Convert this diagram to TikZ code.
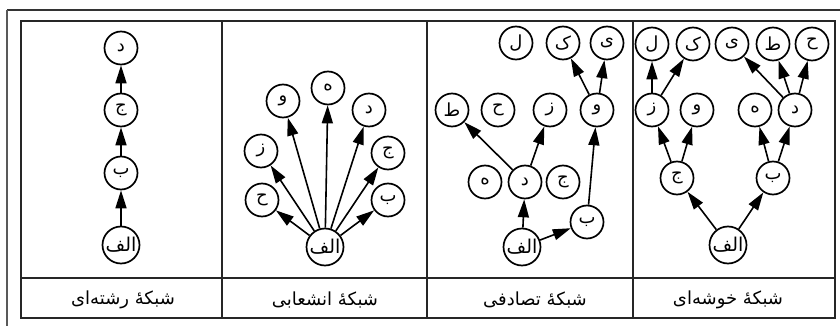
\documentclass[tikz,border=0pt]{standalone}
\usepackage{fontspec}
\usetikzlibrary{arrows.meta}
\newfontfamily\arabicfont[Script=Arabic]{DejaVu Sans}
\TeXXeTstate=1
\newcommand\fa[1]{\beginR#1\endR}
\begin{document}
\begin{tikzpicture}[x=1pt,y=-1pt,
  nd/.style={circle, draw, line width=1.7pt, minimum size=33pt, inner sep=0pt,
    font=\arabicfont\fontsize{18}{18}\selectfont},
  root/.style={nd, minimum size=37pt, font=\arabicfont\fontsize{19}{19}\selectfont},
  ar/.style={line width=1.6pt, -{Triangle[length=18pt,width=11pt]}},
  captxt/.style={font=\arabicfont\fontsize{18}{18}\selectfont, inner sep=0pt},
  tframe/.style={line width=1.9pt, draw=black!85}]
\useasboundingbox (0,0) rectangle (840,326);
\fill[white] (0,0) rectangle (840,326);
% outer scan frame
\coordinate (tl) at (7,10);
\coordinate (tr) at (840,10);
\coordinate (bl) at (7,326);
\draw[line width=2.4pt, black!80] (tl) -- (tr);
\draw[line width=1.4pt, black!65] (tl) -- (bl);
% table
\draw[tframe] (21,21) rectangle (835,318);
\draw[tframe] (21,278) -- (835,278);
\draw[tframe] (222,21) -- (222,318);
\draw[tframe] (427,21) -- (427,318);
\draw[tframe] (633,21) -- (633,318);
% captions
\node[captxt] (c1) at (123,300) {\fa{شبکهٔ رشته‌ای}};
\node[captxt] (c2) at (325,300) {\fa{شبکهٔ انشعابی}};
\node[captxt] (c3) at (535,300) {\fa{شبکهٔ تصادفی}};
\node[captxt] (c4) at (728,300) {\fa{شبکهٔ خوشه‌ای}};
% chain
\node[root] (a1) at (121,245) {\fa{الف}};
\node[nd] (b1) at (121,173) {ب};
\node[nd] (j1) at (121,110) {ج};
\node[nd] (d1) at (121,48) {د};
\draw[ar] (a1) -- (b1);
\draw[ar] (b1) -- (j1);
\draw[ar] (j1) -- (d1);
% branching
\node[root] (a2) at (325,247) {\fa{الف}};
\node[nd] (h2) at (262,200) {ح};
\node[nd] (z2) at (261,151) {ز};
\node[nd] (v2) at (283,101) {و};
\node[nd] (he2) at (328,88) {ه};
\node[nd] (d2) at (369,110) {د};
\node[nd] (j2) at (388,153) {ج};
\node[nd] (b2) at (388,200) {ب};
\foreach \t in {h2,z2,v2,he2,d2,j2,b2} \draw[ar] (a2) -- (\t);
% random
\node[nd] (l3) at (516,43) {ل};
\node[nd] (k3) at (563,43) {ک};
\node[nd] (y3) at (607,43) {ی};
\node[nd] (t3) at (452,110) {ط};
\node[nd] (h3) at (498,110) {ح};
\node[nd] (z3) at (550,110) {ز};
\node[nd] (v3) at (597,110) {و};
\node[nd] (he3) at (485,182) {ه};
\node[nd] (d3) at (525,182) {د};
\node[nd] (j3) at (563,182) {ج};
\node[nd] (b3) at (587,222) {ب};
\node[root] (a3) at (522,247) {\fa{الف}};
\draw[ar] (a3) -- (d3);
\draw[ar] (a3) -- (b3);
\draw[ar] (b3) -- (v3);
\draw[ar] (d3) -- (t3);
\draw[ar] (d3) -- (z3);
\draw[ar] (v3) -- (k3);
\draw[ar] (v3) -- (y3);
% cluster
\node[nd] (l4) at (652,44) {ل};
\node[nd] (k4) at (693,44) {ک};
\node[nd] (y4) at (732,44) {ی};
\node[nd] (t4) at (773,44) {ط};
\node[nd] (h4) at (812,44) {ح};
\node[nd] (z4) at (652,110) {ز};
\node[nd] (v4) at (697,110) {و};
\node[nd] (he4) at (755,110) {ه};
\node[nd] (d4) at (795,110) {د};
\node[nd] (j4) at (677,178) {ج};
\node[nd] (b4) at (773,178) {ب};
\node[root] (a4) at (728,245) {\fa{الف}};
\draw[ar] (a4) -- (j4);
\draw[ar] (a4) -- (b4);
\draw[ar] (j4) -- (z4);
\draw[ar] (j4) -- (v4);
\draw[ar] (b4) -- (he4);
\draw[ar] (b4) -- (d4);
\draw[ar] (z4) -- (l4);
\draw[ar] (z4) -- (k4);
\draw[ar] (d4) -- (y4);
\draw[ar] (d4) -- (t4);
\draw[ar] (d4) -- (h4);
\end{tikzpicture}
\end{document}
